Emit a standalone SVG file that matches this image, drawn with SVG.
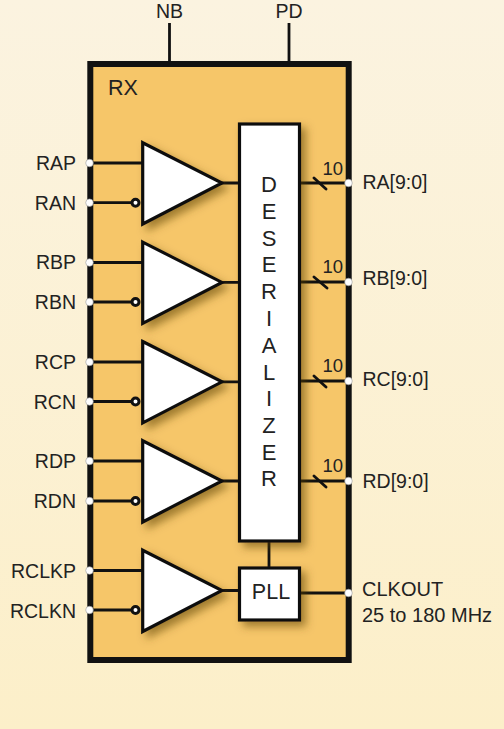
<svg xmlns="http://www.w3.org/2000/svg" width="504" height="729" viewBox="0 0 504 729">
<style>
text{font-family:"Liberation Sans",Arial,sans-serif;font-size:19.500px;fill:#222}
.e{text-anchor:end}.m{text-anchor:middle}
.w{fill:none;stroke:#111;stroke-width:2.800}
.b{fill:#fff;stroke:#111;stroke-width:3.200;filter:url(#sh)}
.p{fill:#fff;stroke:#999;stroke-width:.6}
.n{fill:#fff;stroke:#111;stroke-width:3}
.d{font-size:22px}
</style>
<defs>
<linearGradient id="bg" x1="0" y1="0" x2="0" y2="1"><stop offset="0" stop-color="#fbf3e0"/><stop offset="1" stop-color="#fcefc9"/></linearGradient>
<filter id="sh" x="-30%" y="-30%" width="170%" height="170%"><feDropShadow dx="5" dy="5" stdDeviation="4" flood-color="#5a3c00" flood-opacity=".55"/></filter>
<polygon id="tri" points="142.7,142.7 222,183 142.7,224"/>
</defs>
<rect width="504" height="729" fill="url(#bg)"/>
<g id="rx"><rect x="90.3" y="64" width="258.4" height="596" fill="#f6c669" stroke="#111" stroke-width="6"/><text x="108" y="95" style="font-size:21.500px">RX</text></g>
<g id="connectors">
<path class="w" d="M169.5 23V62M289 23V62M90 163H143M90 202.700H132M90 262.500H143M90 302H132M90 362H143M90 401.500H132M90 461H143M90 501H132M90 570.500H143M90 610H132M222 183H239M222 282.400H239M222 381.800H239M222 481H239M222 590.500H239M269 541V568M299 593H348M299 183H348M299 282H348M299 381H348M299 481H348"/>
<path class="w" stroke-linecap="round" d="M314 178L326 189M314 277L327 288M314 376L326 387M314 476L326 487"/>
</g>
<g id="amp-a"><use href="#tri" class="b"/><circle class="n" cx="135.500" cy="202.700" r="3.500"/></g>
<g id="amp-b"><use href="#tri" class="b" y="99.400"/><circle class="n" cx="135.500" cy="302" r="3.500"/></g>
<g id="amp-c"><use href="#tri" class="b" y="198.800"/><circle class="n" cx="135.500" cy="401.500" r="3.500"/></g>
<g id="amp-d"><use href="#tri" class="b" y="298"/><circle class="n" cx="135.500" cy="501" r="3.500"/></g>
<g id="amp-clk"><use href="#tri" class="b" y="407.500"/><circle class="n" cx="135.500" cy="610" r="3.500"/></g>
<g id="deserializer"><rect class="b" x="239.500" y="124" width="60" height="417"/>
<text class="m d" x="269" y="192">D</text><text class="m d" x="269" y="219">E</text><text class="m d" x="269" y="245.600">S</text><text class="m d" x="269" y="272.400">E</text><text class="m d" x="269" y="299.200">R</text><text class="m d" x="269" y="326">I</text><text class="m d" x="269" y="352.800">A</text><text class="m d" x="269" y="379.600">L</text><text class="m d" x="269" y="406.400">I</text><text class="m d" x="269" y="433">Z</text><text class="m d" x="269" y="459.800">E</text><text class="m d" x="269" y="486">R</text></g>
<g id="pll"><rect class="b" x="239.500" y="568" width="60" height="52"/><text class="m" x="271" y="599.300" style="font-size:21.500px">PLL</text></g>
<g id="pins">
<circle class="p" cx="89.500" cy="163" r="3.800"/><circle class="p" cx="89.500" cy="202.700" r="3.800"/><circle class="p" cx="89.500" cy="262.500" r="3.800"/><circle class="p" cx="89.500" cy="302" r="3.800"/><circle class="p" cx="89.500" cy="362" r="3.800"/><circle class="p" cx="89.500" cy="401.500" r="3.800"/><circle class="p" cx="89.500" cy="461" r="3.800"/><circle class="p" cx="89.500" cy="501" r="3.800"/><circle class="p" cx="89.500" cy="570.500" r="3.800"/><circle class="p" cx="89.500" cy="610" r="3.800"/>
<circle class="p" cx="348.500" cy="183" r="3.800"/><circle class="p" cx="348.500" cy="282" r="3.800"/><circle class="p" cx="348.500" cy="381" r="3.800"/><circle class="p" cx="348.500" cy="481" r="3.800"/><circle class="p" cx="348.500" cy="593" r="3.800"/>
</g>
<g id="labels">
<text class="m" x="169.500" y="18">NB</text><text class="m" x="289" y="18">PD</text>
<text class="e" x="76" y="170">RAP</text><text class="e" x="76" y="209.500">RAN</text><text class="e" x="76" y="269">RBP</text><text class="e" x="76" y="309">RBN</text><text class="e" x="76" y="369">RCP</text><text class="e" x="76" y="408.500">RCN</text><text class="e" x="76" y="468">RDP</text><text class="e" x="76" y="508">RDN</text><text class="e" x="76" y="578">RCLKP</text><text class="e" x="76" y="617.700">RCLKN</text>
<text x="322.500" y="175" style="font-size:18.500px">10</text><text x="322.500" y="273" style="font-size:18.500px">10</text><text x="322.500" y="372" style="font-size:18.500px">10</text><text x="322.500" y="472" style="font-size:18.500px">10</text>
<text x="362.500" y="189">RA[9:0]</text><text x="362.500" y="285">RB[9:0]</text><text x="362.500" y="386">RC[9:0]</text><text x="362.500" y="488">RD[9:0]</text>
<text x="362" y="596" style="font-size:20px">CLKOUT</text><text x="362" y="621.700" style="font-size:20px">25 to 180 MHz</text>
</g>
</svg>
